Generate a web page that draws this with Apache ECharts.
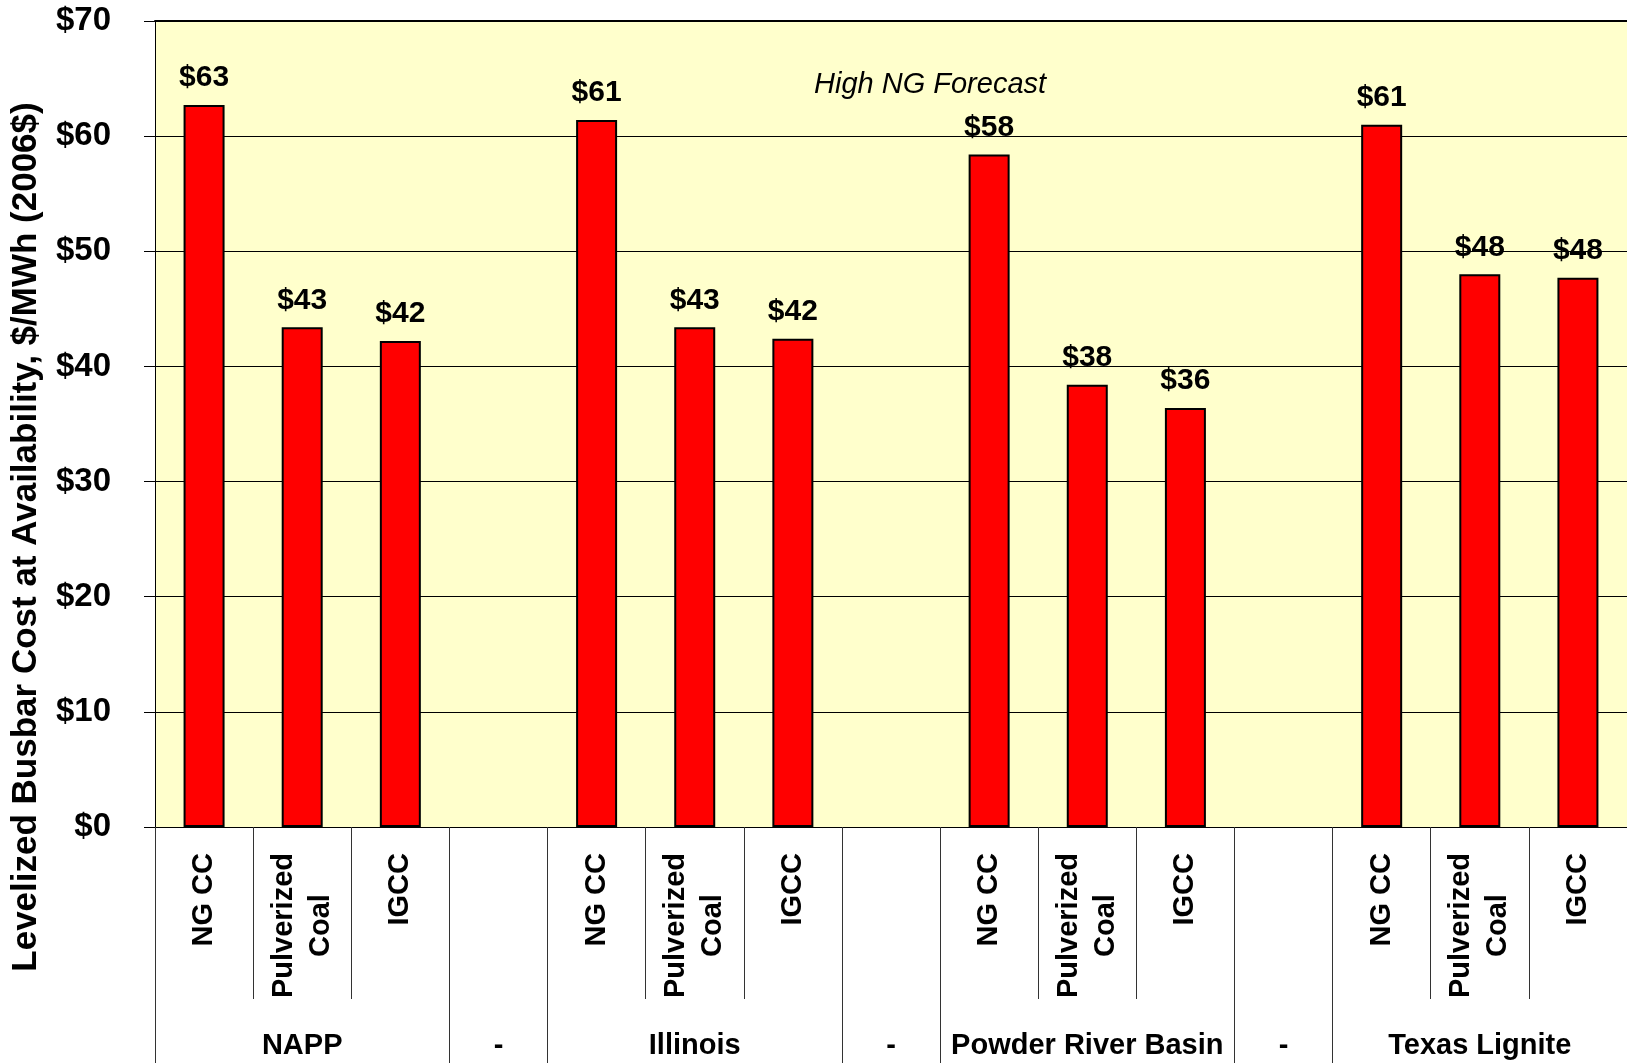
<!DOCTYPE html>
<html>
<head>
<meta charset="utf-8">
<script src="https://cdn.jsdelivr.net/npm/echarts@6/dist/echarts.min.js"></script>
<style>
  html, body { margin: 0; padding: 0; background: #ffffff; }
  #chart { width: 1627px; height: 1063px; }
</style>
</head>
<body>
<div id="chart"></div>
<script>
// ---- data ----
const categories = ['NG CC', 'Pulverized\nCoal', 'IGCC', '',
                    'NG CC', 'Pulverized\nCoal', 'IGCC', '',
                    'NG CC', 'Pulverized\nCoal', 'IGCC', '',
                    'NG CC', 'Pulverized\nCoal', 'IGCC'];
const costs = [62.7, 43.4, 42.2, null,
               61.4, 43.4, 42.4, null,
               58.4, 38.4, 36.4, null,
               61.0, 48.0, 47.7];
const groupNames = ['NAPP', '-', 'Illinois', '-', 'Powder River Basin', '-', 'Texas Lignite'];
const groupSizes = [3, 1, 3, 1, 3, 1, 3];
const yMin = 0, yMax = 70, yStep = 10;
const yTitle = 'Levelized Busbar Cost at Availability, $/MWh (2006$)';
const noteText = 'High NG Forecast';

// ---- derived helpers ----
const groupPerCat = [];
const groupStart = new Set();
const groupMid = new Set();
let idx = 0;
groupNames.forEach((g, k) => {
  const n = groupSizes[k];
  groupStart.add(idx);
  groupMid.add(idx + Math.floor(n / 2));
  for (let j = 0; j < n; j++) groupPerCat.push(g);
  idx += n;
});

const FONT = "'Liberation Sans', Arial, sans-serif";

const chart = echarts.init(document.getElementById('chart'), null, { renderer: 'canvas' });
chart.setOption({
  animation: false,
  backgroundColor: '#ffffff',
  textStyle: { fontFamily: FONT },
  title: {
    text: noteText,
    left: 814, top: 70, padding: 0,
    textStyle: { fontFamily: FONT, fontStyle: 'italic', fontWeight: 'normal', fontSize: 29, color: '#000' }
  },
  grid: {
    left: 155, right: 0, top: 21, bottom: 236,
    show: true, backgroundColor: '#FFFFCC', borderWidth: 0,
    outerBoundsMode: 'none', containLabel: false
  },
  xAxis: [
    {
      type: 'category', position: 'bottom', data: categories,
      axisLine: { show: true, lineStyle: { color: '#000', width: 1 } },
      axisTick: { show: true, interval: 0, length: 172, lineStyle: { color: '#333', width: 1 } },
      axisLabel: {
        interval: 0, rotate: 90, margin: 26, hideOverlap: false,
        formatter: v => v.split('\n').map(s => '{c|' + s + '}').join('\n'),
        rich: { c: { align: 'center', fontFamily: FONT, fontWeight: 'bold', fontSize: 29, lineHeight: 37, color: '#000' } }
      },
      splitLine: { show: false }
    },
    {
      type: 'category', position: 'bottom', data: groupPerCat,
      axisLine: { show: false },
      axisTick: { show: true, interval: (i) => groupStart.has(i), length: 240, lineStyle: { color: '#333', width: 1 } },
      axisLabel: {
        interval: (i) => groupMid.has(i), margin: 204, hideOverlap: false,
        fontFamily: FONT, fontWeight: 'bold', fontSize: 29, color: '#000'
      },
      splitLine: { show: false }
    },
    {
      type: 'category', position: 'top', data: categories,
      axisLine: { show: true, lineStyle: { color: '#000', width: 2 } },
      axisTick: { show: false }, axisLabel: { show: false }, splitLine: { show: false }
    }
  ],
  yAxis: {
    type: 'value', min: yMin, max: yMax, interval: yStep,
    name: yTitle, nameLocation: 'middle', nameGap: 111, nameMoveOverlap: false,
    nameTextStyle: { fontFamily: FONT, fontWeight: 'bold', fontSize: 35, color: '#000', padding: [0, 226, 0, 0] },
    axisLine: { show: true, lineStyle: { color: '#000', width: 1 } },
    axisTick: { show: true, length: 11, lineStyle: { color: '#000' } },
    axisLabel: { margin: 44, formatter: v => '$' + v, fontFamily: FONT, fontWeight: 'bold', fontSize: 33, color: '#000' },
    splitLine: { show: true, lineStyle: { color: '#000', width: 1 } }
  },
  series: [{
    type: 'bar', xAxisIndex: 0, data: costs, barWidth: 41,
    itemStyle: { color: '#FF0000', borderColor: '#000', borderWidth: 2 },
    label: {
      show: true, position: 'top', distance: 12,
      formatter: p => '$' + Math.round(p.value),
      fontFamily: FONT, fontWeight: 'bold', fontSize: 30, color: '#000'
    }
  }]
});
</script>
</body>
</html>
